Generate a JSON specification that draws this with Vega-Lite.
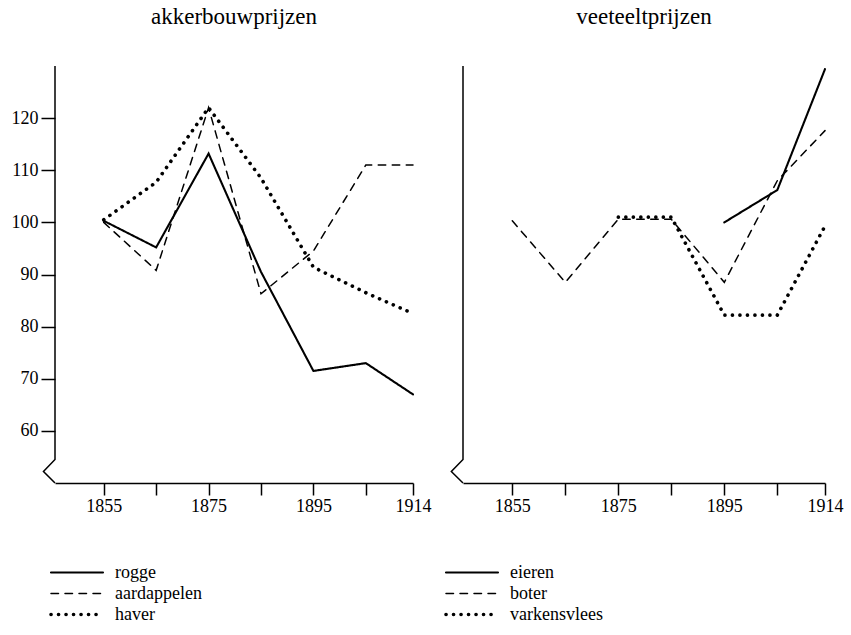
{
  "$schema": "https://vega.github.io/schema/vega-lite/v6.json",
  "background": "white",
  "padding": {"left": 11, "top": 6, "right": 5, "bottom": 5},
  "spacing": 50,
  "bounds": "flush",
  "config": {
    "font": "Liberation Serif, Times New Roman, serif",
    "view": {"stroke": null},
    "line": {"strokeCap": "round"},
    "text": {"font": "Liberation Serif, Times New Roman, serif"},
    "axis": {
      "labelFont": "Liberation Serif, Times New Roman, serif",
      "labelFontSize": 18,
      "labelColor": "black",
      "tickColor": "black",
      "tickWidth": 1.5,
      "domainColor": "black",
      "domainWidth": 1.5,
      "grid": false,
      "labelFlush": false,
      "labelOverlap": false,
      "labelBound": false
    },
    "title": {"font": "Liberation Serif, Times New Roman, serif", "fontSize": 23, "fontWeight": "normal", "color": "black", "anchor": "middle", "baseline": "alphabetic", "offset": 34},
    "legend": {
      "orient": "none",
      "title": null,
      "symbolType": "stroke",
      "symbolSize": 2704,
      "symbolStrokeColor": "black",
      "labelFont": "Liberation Serif, Times New Roman, serif",
      "labelFontSize": 18,
      "labelColor": "black",
      "labelOffset": 10,
      "clipHeight": 21,
      "rowPadding": 0
    }
  },
  "datasets": {
    "akkerbouw": [
      {"jaar": 1855, "index": 100.3, "product": "rogge"},
      {"jaar": 1865, "index": 95.2, "product": "rogge"},
      {"jaar": 1875, "index": 113.2, "product": "rogge"},
      {"jaar": 1885, "index": 90.5, "product": "rogge"},
      {"jaar": 1895, "index": 71.5, "product": "rogge"},
      {"jaar": 1905, "index": 73, "product": "rogge"},
      {"jaar": 1914, "index": 67, "product": "rogge"},
      {"jaar": 1855, "index": 100, "product": "aardappelen"},
      {"jaar": 1865, "index": 90.8, "product": "aardappelen"},
      {"jaar": 1875, "index": 122, "product": "aardappelen"},
      {"jaar": 1885, "index": 86.3, "product": "aardappelen"},
      {"jaar": 1895, "index": 94.5, "product": "aardappelen"},
      {"jaar": 1905, "index": 111, "product": "aardappelen"},
      {"jaar": 1914, "index": 111, "product": "aardappelen"},
      {"jaar": 1855, "index": 100.5, "product": "haver"},
      {"jaar": 1865, "index": 107.7, "product": "haver"},
      {"jaar": 1875, "index": 122, "product": "haver"},
      {"jaar": 1885, "index": 108.5, "product": "haver"},
      {"jaar": 1895, "index": 91.4, "product": "haver"},
      {"jaar": 1905, "index": 86.5, "product": "haver"},
      {"jaar": 1914, "index": 82.5, "product": "haver"}
    ],
    "veeteelt": [
      {"jaar": 1895, "index": 100, "product": "eieren"},
      {"jaar": 1905, "index": 106.2, "product": "eieren"},
      {"jaar": 1914, "index": 129.4, "product": "eieren"},
      {"jaar": 1855, "index": 100.3, "product": "boter"},
      {"jaar": 1865, "index": 88.5, "product": "boter"},
      {"jaar": 1875, "index": 100.6, "product": "boter"},
      {"jaar": 1885, "index": 100.6, "product": "boter"},
      {"jaar": 1895, "index": 88.5, "product": "boter"},
      {"jaar": 1905, "index": 108, "product": "boter"},
      {"jaar": 1914, "index": 117.6, "product": "boter"},
      {"jaar": 1875, "index": 101, "product": "varkensvlees"},
      {"jaar": 1885, "index": 101, "product": "varkensvlees"},
      {"jaar": 1895, "index": 82.2, "product": "varkensvlees"},
      {"jaar": 1905, "index": 82.2, "product": "varkensvlees"},
      {"jaar": 1914, "index": 99.3, "product": "varkensvlees"}
    ],
    "asbreuk": [
      {"jaar": 1845.7, "index": 130, "volgorde": 1},
      {"jaar": 1845.7, "index": 54.5, "volgorde": 2},
      {"jaar": 1843.5, "index": 52.2, "volgorde": 3},
      {"jaar": 1845.7, "index": 50, "volgorde": 4}
    ]
  },
  "resolve": {
    "scale": {"strokeDash": "independent", "strokeWidth": "independent"},
    "legend": {"strokeDash": "independent", "strokeWidth": "independent"}
  },
  "hconcat": [
    {
      "width": 358,
      "height": 417,
      "title": {"text": "akkerbouwprijzen"},
      "layer": [
        {
          "data": {"name": "akkerbouw"},
          "mark": {"type": "line", "color": "black", "strokeCap": "round", "clip": false},
          "encoding": {
            "x": {
              "field": "jaar", "type": "quantitative",
              "scale": {"domain": [1845.7, 1914], "nice": false, "zero": false},
              "axis": {"title": null, "values": [1855, 1865, 1875, 1885, 1895, 1905, 1914], "format": "d",
                       "labelExpr": "indexof([1855, 1875, 1895, 1914], datum.value) >= 0 ? datum.label : ''",
                       "tickSize": 12, "labelPadding": 2}
            },
            "y": {
              "field": "index", "type": "quantitative",
              "scale": {"domain": [50, 130], "nice": false, "zero": false},
              "axis": {"title": null, "values": [60, 70, 80, 90, 100, 110, 120], "domain": false, "tickSize": 14, "labelPadding": 3}
            },
            "strokeDash": {
              "field": "product", "type": "nominal",
              "scale": {"domain": ["rogge", "aardappelen", "haver"], "range": [[1, 0], [7.5, 6.5], [0.1, 7.4]]},
              "legend": {"legendX": -6, "legendY": 496, "encode": {"symbols": {"update": {"strokeCap": {"value": "round"}}}}}
            },
            "strokeWidth": {
              "field": "product", "type": "nominal",
              "scale": {"type": "ordinal", "domain": ["rogge", "aardappelen", "haver"], "range": [2.1, 1.5, 3.6]},
              "legend": {"legendX": -6, "legendY": 496}
            }
          }
        },
        {
          "data": {"name": "asbreuk"},
          "mark": {"type": "line", "color": "black", "strokeWidth": 1.5, "strokeCap": "butt", "clip": false},
          "encoding": {
            "x": {"field": "jaar", "type": "quantitative"},
            "y": {"field": "index", "type": "quantitative"},
            "order": {"field": "volgorde", "type": "quantitative"}
          }
        }
      ]
    },
    {
      "width": 362,
      "height": 417,
      "title": {"text": "veeteeltprijzen"},
      "layer": [
        {
          "data": {"name": "veeteelt"},
          "mark": {"type": "line", "color": "black", "strokeCap": "round", "clip": false},
          "encoding": {
            "x": {
              "field": "jaar", "type": "quantitative",
              "scale": {"domain": [1845.7, 1914], "nice": false, "zero": false},
              "axis": {"title": null, "values": [1855, 1865, 1875, 1885, 1895, 1905, 1914], "format": "d",
                       "labelExpr": "indexof([1855, 1875, 1895, 1914], datum.value) >= 0 ? datum.label : ''",
                       "tickSize": 12, "labelPadding": 2}
            },
            "y": {
              "field": "index", "type": "quantitative",
              "scale": {"domain": [50, 130], "nice": false, "zero": false},
              "axis": null
            },
            "strokeDash": {
              "field": "product", "type": "nominal",
              "scale": {"domain": ["eieren", "boter", "varkensvlees"], "range": [[1, 0], [7.5, 6.5], [0.1, 7.4]]},
              "legend": {"legendX": -19, "legendY": 496, "encode": {"symbols": {"update": {"strokeCap": {"value": "round"}}}}}
            },
            "strokeWidth": {
              "field": "product", "type": "nominal",
              "scale": {"type": "ordinal", "domain": ["eieren", "boter", "varkensvlees"], "range": [2.1, 1.5, 3.6]},
              "legend": {"legendX": -19, "legendY": 496}
            }
          }
        },
        {
          "data": {"name": "asbreuk"},
          "mark": {"type": "line", "color": "black", "strokeWidth": 1.5, "strokeCap": "butt", "clip": false},
          "encoding": {
            "x": {"field": "jaar", "type": "quantitative"},
            "y": {"field": "index", "type": "quantitative"},
            "order": {"field": "volgorde", "type": "quantitative"}
          }
        }
      ]
    }
  ]
}
